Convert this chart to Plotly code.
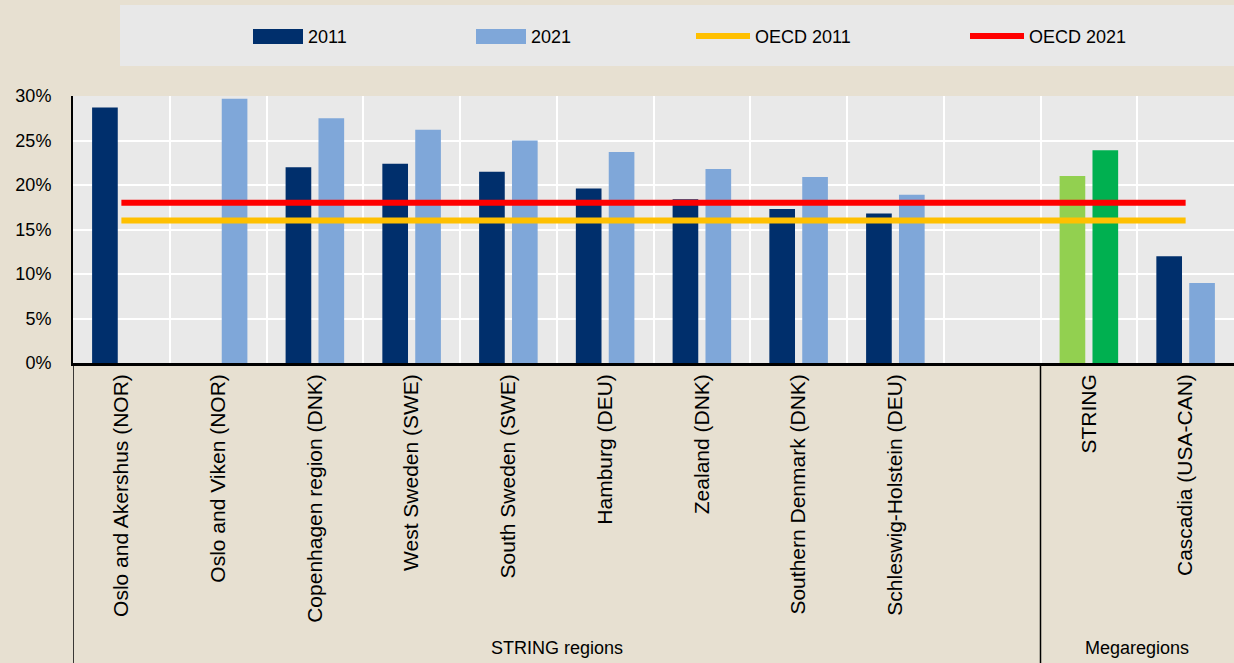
import plotly.graph_objects as go

categories = ["Oslo and Akershus (NOR)", "Oslo and Viken (NOR)", "Copenhagen region (DNK)",
              "West Sweden (SWE)", "South Sweden (SWE)", "Hamburg (DEU)", "Zealand (DNK)",
              "Southern Denmark (DNK)", "Schleswig-Holstein (DEU)", " ", "STRING",
              "Cascadia (USA-CAN)"]
values_2011 = [28.7, None, 22.0, 22.4, 21.5, 19.6, 18.4, 17.3, 16.8, None, 21.0, 12.0]
values_2021 = [None, 29.7, 27.5, 26.2, 25.0, 23.7, 21.8, 20.9, 18.9, None, 23.9, 9.0]
oecd_2011 = 16.0
oecd_2021 = 18.0
y_ticks = [0, 5, 10, 15, 20, 25, 30]
y_tick_labels = ["0%", "5%", "10%", "15%", "20%", "25%", "30%"]
groups = [("STRING regions", 0, 9), ("Megaregions", 10, 11)]
legend_labels = ["2011", "2021", "OECD 2011", "OECD 2021"]

NAVY = "#002F6C"
LIGHTBLUE = "#7FA7D9"
LIGHTGREEN = "#92D050"
GREEN = "#00B050"
YELLOW = "#FFC000"
RED = "#FF0000"
BEIGE = "#E7E0D1"
PLOTBG = "#E9E9E9"
FONT = "Liberation Sans, Arial, sans-serif"

col_2011 = [LIGHTGREEN if c == "STRING" else NAVY for c in categories]
col_2021 = [GREEN if c == "STRING" else LIGHTBLUE for c in categories]

fig = go.Figure()
fig.add_trace(go.Bar(x=categories, y=values_2011, name="2011", marker=dict(color=col_2011, line=dict(width=0)), showlegend=False))
fig.add_trace(go.Bar(x=categories, y=values_2021, name="2021", marker=dict(color=col_2021, line=dict(width=0)), showlegend=False))
fig.add_trace(go.Scatter(x=[categories[0], categories[-1]], y=[oecd_2011, oecd_2011], mode="lines",
                         line=dict(color=YELLOW, width=6), name="OECD 2011", showlegend=False))
fig.add_trace(go.Scatter(x=[categories[0], categories[-1]], y=[oecd_2021, oecd_2021], mode="lines",
                         line=dict(color=RED, width=6), name="OECD 2021", showlegend=False))

W, H = 1234, 663
L, R, T, B = 73, 0, 96, 300
pw, ph = W - L - R, H - T - B


def px_x(p):
    return (p - L) / pw


def px_y(p):
    return (H - B - p) / ph


shapes = []
annotations = []
# legend box
shapes.append(dict(type="rect", xref="paper", yref="paper", x0=px_x(120), x1=px_x(1234),
                   y0=px_y(66), y1=px_y(5), fillcolor="#E8E8E8", line=dict(width=0), layer="below"))
legend_items = [
    (legend_labels[0], NAVY, "rect", 253),
    (legend_labels[1], LIGHTBLUE, "rect", 476),
    (legend_labels[2], YELLOW, "line", 696),
    (legend_labels[3], RED, "line", 970),
]
for label, color, kind, x0 in legend_items:
    if kind == "rect":
        shapes.append(dict(type="rect", xref="paper", yref="paper", x0=px_x(x0), x1=px_x(x0 + 50),
                           y0=px_y(44), y1=px_y(29), fillcolor=color, line=dict(width=0)))
        tx = x0 + 53
    else:
        shapes.append(dict(type="line", xref="paper", yref="paper", x0=px_x(x0), x1=px_x(x0 + 54),
                           y0=px_y(36), y1=px_y(36), line=dict(color=color, width=6)))
        tx = x0 + 57
    annotations.append(dict(text=label, xref="paper", yref="paper", x=px_x(tx), y=px_y(36.5),
                            xanchor="left", yanchor="middle", showarrow=False,
                            font=dict(family=FONT, size=18, color="#000000")))

# group separators and labels
for xb in [-0.5, 9.5]:
    shapes.append(dict(type="line", xref="x", yref="paper", x0=xb, x1=xb, y0=0, y1=px_y(663),
                       line=dict(color="#000000", width=1.5)))
for name, a, b in groups:
    annotations.append(dict(text=name, xref="x", yref="paper", x=(a + b) / 2, y=px_y(648),
                            xanchor="center", yanchor="middle", showarrow=False,
                            font=dict(family=FONT, size=18, color="#000000")))

fig.update_layout(
    width=W, height=H,
    margin=dict(l=L, r=R, t=T, b=B, pad=0),
    paper_bgcolor=BEIGE, plot_bgcolor=PLOTBG,
    barmode="group", bargap=0.32, bargroupgap=0.22,
    shapes=shapes, annotations=annotations,
    showlegend=False,
    xaxis=dict(type="category", tickangle=-90, tickson="boundaries", showgrid=True,
               gridcolor="#FFFFFF", gridwidth=2, ticks="", showline=True, linecolor="#000000",
               linewidth=2.5, tickfont=dict(family=FONT, size=21, color="#000000"),
               ticklabelstandoff=0, range=[-0.5, 11.5]),
    yaxis=dict(range=[0, 30], tickvals=y_ticks, ticktext=y_tick_labels, showgrid=True,
               gridcolor="#FFFFFF", gridwidth=2, showline=True, linecolor="#000000", linewidth=2,
               ticks="", zeroline=False, tickfont=dict(family=FONT, size=18, color="#000000"),
               ticklabelstandoff=16),
)

fig.write_html("out.html", config={"displayModeBar": False},
               post_script="document.body.style.margin='0';document.body.style.padding='0';"
                           "document.body.style.overflow='hidden';")
